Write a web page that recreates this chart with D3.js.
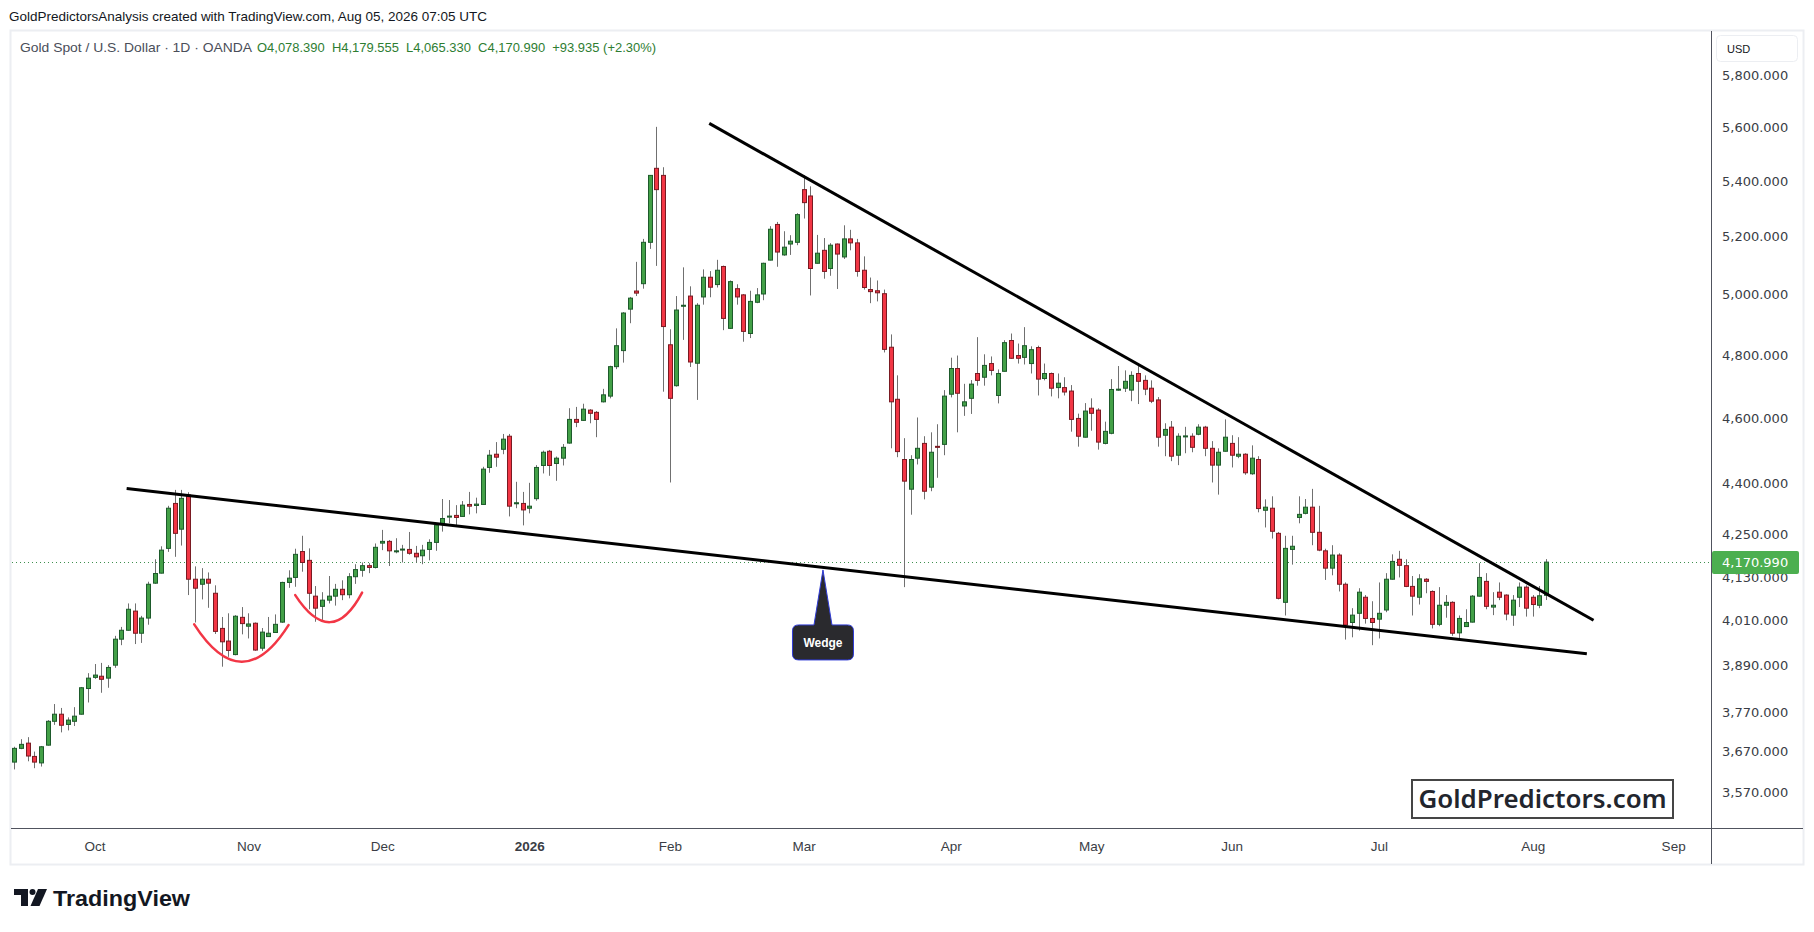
<!DOCTYPE html>
<html>
<head>
<meta charset="utf-8">
<script src="https://cdn.jsdelivr.net/npm/d3@7"></script>
<style>
  html, body { margin: 0; padding: 0; background: #fff; }
  svg { display: block; font-family: "Liberation Sans", Arial, sans-serif; }
</style>
</head>
<body>
<svg id="chart" width="1814" height="932"></svg>
<script>
// daily candles, [open, high, low, close], one array per month
var sep25 = [
  [3643,3681,3625,3677],[3677,3700,3675,3687],[3690,3705,3645,3658],[3657,3669,3628,3643],
  [3641,3683,3632,3681],[3685,3748,3684,3745],[3745,3789,3736,3763],[3763,3779,3717,3735],
  [3737,3755,3722,3748],[3745,3781,3733,3758],[3763,3833,3762,3831],[3829,3869,3793,3856]
];
var oct25 = [
  [3858,3893,3854,3864],[3861,3896,3818,3853],[3856,3890,3831,3884],[3890,3968,3883,3959],
  [3959,3992,3943,3983],[3983,4056,3982,4040],[4035,4056,3946,3975],[3975,4022,3949,4016],
  [4016,4116,3998,4109],[4112,4179,4110,4139],[4140,4216,4139,4205],[4210,4333,4200,4326],
  [4340,4380,4186,4253],[4265,4380,4218,4355],[4365,4373,4079,4123],[4123,4159,4004,4098],
  [4109,4154,4067,4123],[4123,4142,4044,4112],[4084,4106,3973,3980],[3988,4019,3886,3952],
  [3954,4029,3912,3929],[3918,4024,3916,4021],[4018,4046,3972,4001]
];
var nov25 = [
  [3994,4029,3961,4000],[4002,4004,3928,3930],[3935,3989,3928,3978],[3966,4019,3965,3975],
  [3977,4026,3976,3999],[4005,4116,4003,4114],[4114,4148,4099,4126],[4128,4209,4102,4193],
  [4201,4246,4144,4170],[4176,4210,4040,4084],[4076,4104,4006,4043],[4048,4087,4011,4065],
  [4065,4132,4056,4076],[4076,4110,4050,4095],[4095,4120,4065,4080],[4080,4140,4070,4130],
  [4130,4165,4110,4150],[4148,4170,4130,4161],[4161,4168,4140,4156],[4156,4224,4153,4213]
];
var dec25 = [
  [4225,4263,4205,4230],[4230,4234,4160,4203],[4202,4239,4196,4203],[4206,4220,4170,4208],
  [4207,4257,4192,4196],[4196,4217,4170,4186],[4189,4220,4165,4205],[4207,4236,4176,4227],
  [4227,4282,4203,4277],[4281,4353,4258,4296],[4302,4350,4282,4303],[4305,4335,4272,4299],
  [4302,4347,4301,4335],[4337,4374,4308,4332],[4334,4357,4311,4338],[4337,4449,4336,4442],
  [4447,4500,4431,4484],[4487,4524,4449,4478],[4502,4549,4487,4533],[4542,4549,4302,4332],
  [4340,4404,4326,4342],[4340,4374,4276,4321]
];
var jan26 = [
  [4326,4401,4311,4332],[4354,4454,4348,4447],[4453,4498,4429,4493],[4496,4500,4422,4453],
  [4459,4480,4407,4475],[4475,4518,4453,4508],[4521,4629,4519,4594],[4594,4633,4570,4585],
  [4591,4643,4589,4626],[4623,4626,4582,4613],[4616,4620,4539,4594],[4649,4690,4647,4671],
  [4667,4764,4660,4761],[4761,4886,4753,4829],[4813,4940,4774,4937],[4950,4991,4903,4987],
  [5011,5111,4994,5004],[5036,5191,5019,5179],[5179,5420,5156,5419],[5445,5600,5097,5367],
  [5419,5449,4681,4892]
];
var feb26 = [
  [4832,4883,4402,4660],[4700,4994,4697,4947],[4960,5092,4848,4963],[4994,5027,4760,4776],
  [4772,4970,4655,4963],[4991,5085,4965,5058],[5058,5079,4990,5024],[5033,5118,5023,5082],
  [5095,5098,4880,4919],[4886,5047,4884,5043],[5019,5034,4965,4991],[4998,5001,4842,4876],
  [4869,5012,4854,4976],[4973,5021,4970,4998],[5001,5108,4980,5106],[5117,5236,5116,5225],
  [5242,5251,5094,5145],[5135,5218,5132,5162],[5173,5204,5135,5183],[5179,5282,5169,5277]
];
var mar26 = [
  [5367,5419,5263,5320],[5344,5379,4996,5088],[5106,5205,5105,5141],[5151,5194,5053,5078],
  [5088,5176,5063,5169],[5173,5175,5018,5138],[5128,5239,5121,5191],[5191,5223,5151,5177],
  [5177,5191,5060,5078],[5082,5130,5016,5023],[5016,5057,4970,5009],[5012,5047,4976,5005],
  [5002,5016,4807,4817],[4824,4866,4505,4649],[4657,4733,4478,4495],[4471,4536,4101,4406],
  [4382,4484,4307,4471],[4475,4600,4456,4505],[4520,4542,4352,4376],[4388,4554,4376,4493],
  [4511,4579,4416,4509],[4517,4686,4484,4667]
];
var apr26 = [
  [4673,4790,4663,4755],[4755,4797,4554,4676],[4636,4706,4605,4649],[4660,4718,4611,4705],
  [4739,4857,4700,4717],[4727,4801,4700,4765],[4771,4794,4733,4749],[4669,4752,4644,4739],
  [4746,4847,4745,4839],[4846,4869,4786,4788],[4797,4836,4771,4788],[4791,4890,4768,4829],
  [4771,4827,4739,4816],[4823,4829,4669,4721],[4723,4771,4717,4739],[4739,4742,4666,4692],
  [4694,4739,4660,4708],[4694,4727,4669,4680],[4683,4702,4556,4594],[4597,4612,4510,4542],
  [4539,4645,4538,4620]
];
var may26 = [
  [4629,4660,4559,4613],[4623,4629,4501,4524],[4520,4587,4517,4557],[4551,4721,4548,4688],
  [4688,4763,4684,4689],[4692,4749,4680,4714],[4686,4746,4651,4733],[4739,4771,4642,4714],
  [4717,4733,4670,4689],[4692,4717,4645,4651],[4655,4664,4510,4539],[4545,4582,4481,4563],
  [4570,4589,4466,4481],[4484,4551,4454,4542],[4542,4571,4490,4543],[4542,4551,4493,4508],
  [4548,4579,4545,4570],[4570,4574,4481,4505],[4505,4527,4402,4454],[4454,4505,4366,4493],
  [4496,4594,4495,4539]
];
var jun26 = [
  [4520,4545,4447,4484],[4481,4539,4475,4487],[4487,4490,4425,4431],[4428,4514,4425,4475],
  [4471,4481,4314,4325],[4320,4352,4270,4329],[4326,4361,4238,4259],[4253,4257,4067,4070],
  [4059,4246,4023,4210],[4207,4246,4164,4216],[4299,4361,4282,4308],[4311,4353,4308,4329],
  [4329,4383,4219,4256],[4256,4333,4202,4205],[4203,4209,4121,4154],[4154,4219,4134,4191],
  [4191,4196,4089,4109],[4109,4114,3958,3997],[4004,4043,3964,4024],[4029,4098,3982,4087],
  [4073,4079,4001,4015],[4015,4062,3943,4004]
];
var jul26 = [
  [4013,4114,3961,4029],[4038,4140,4032,4123],[4123,4193,4122,4173],[4179,4203,4128,4162],
  [4161,4179,4101,4103],[4103,4132,4023,4076],[4073,4137,4053,4124],[4123,4126,4084,4117],
  [4089,4092,3988,3999],[3999,4101,3994,4051],[4051,4079,4017,4059],[4059,4062,3968,3975],
  [3976,4023,3958,4015],[3993,4040,3992,4004],[4005,4079,4004,4076],[4076,4168,4075,4128],
  [4117,4140,4040,4048],[4046,4087,4024,4051],[4087,4114,4065,4073],[4079,4081,4010,4027],
  [4024,4079,3995,4065],[4073,4114,4046,4101],[4101,4106,4020,4043]
];
var aug26 = [
  [4073,4079,4020,4053],[4051,4104,4043,4077.055],[4078.390,4179.555,4065.330,4170.990]
];

// calendar
var firstDay = '2025-09-15';
var holidays = ['2025-12-25', '2026-01-01', '2026-04-03'];
var monthTicks = [
  ['2025-10-01','Oct'],['2025-11-03','Nov'],['2025-12-01','Dec'],['2026-01-02','2026'],
  ['2026-02-02','Feb'],['2026-03-02','Mar'],['2026-04-01','Apr'],['2026-05-01','May'],
  ['2026-06-01','Jun'],['2026-07-01','Jul'],['2026-08-03','Aug'],['2026-09-01','Sep']
];
var priceTicks = [5800,5600,5400,5200,5000,4800,4600,4400,4250,4130,4010,3890,3770,3670,3570];

// drawings: [bar index, price]
var upperLine = [[103.9, 5613], [236.1, 4010]];
var lowerLine = [[16.8, 4384], [235.1, 3920]];
var cups = [
  [[26.9, 3999], [34.0, 3899], [41.0, 3997]],
  [[42.0, 4079], [47.2, 4005], [52.0, 4086]]
];
var wedgeTip = [120.9, 4149];

// ---------------------------------------------------------------
var svg = d3.select('#chart');
var plot = {left: 12, right: 1711, top: 31, bottom: 828};
var green = '#43a047', red = '#f23645';
var axisFont = '"DejaVu Sans", Verdana, sans-serif';

var dates = [];
(function() {
  var d = new Date(firstDay + 'T00:00:00Z');
  while (dates.length < 260) {
    var iso = d.toISOString().slice(0, 10), wd = d.getUTCDay();
    if (wd !== 0 && wd !== 6 && holidays.indexOf(iso) === -1) dates.push(iso);
    d.setUTCDate(d.getUTCDate() + 1);
  }
})();

var candles = [].concat(sep25, oct25, nov25, dec25, jan26, feb26, mar26, apr26, may26, jun26, jul26, aug26)
  .map(function(c, i) { return {i: i, date: dates[i], o: c[0], h: c[1], l: c[2], c: c[3]}; });

var x = d3.scaleLinear().domain([-0.34, 253.66]).range([plot.left, plot.right]);
var y = d3.scaleLog().domain([3570, 5800]).range([792, 75]);
var pt = function(p) { return [x(p[0]), y(p[1])]; };

// panel
svg.append('rect').attr('x', 10.5).attr('y', 30.5).attr('width', 1793).attr('height', 834)
  .attr('fill', '#fff').attr('stroke', '#eceef2').attr('stroke-width', 2);

// header
var fmt3 = d3.format(',.3f');
var last = candles[candles.length - 1], prev = candles[candles.length - 2];
var chg = last.c - prev.c;
svg.append('text').attr('x', 9).attr('y', 21).attr('font-size', 13).attr('fill', '#131722')
  .attr('textLength', 478).attr('lengthAdjust', 'spacingAndGlyphs')
  .text('GoldPredictorsAnalysis created with TradingView.com, Aug 05, 2026 07:05 UTC');
svg.append('text').attr('x', 20).attr('y', 52).attr('font-size', 13).attr('fill', '#4a4e59')
  .attr('textLength', 232).attr('lengthAdjust', 'spacingAndGlyphs')
  .text('Gold Spot / U.S. Dollar \u00b7 1D \u00b7 OANDA');
svg.append('text').attr('x', 257).attr('y', 52).attr('font-size', 13).attr('fill', '#2e7d32')
  .style('white-space', 'pre')
  .attr('textLength', 399).attr('lengthAdjust', 'spacingAndGlyphs')
  .text('O' + fmt3(last.o) + '  H' + fmt3(last.h) + '  L' + fmt3(last.l) + '  C' + fmt3(last.c) +
        '  ' + (chg >= 0 ? '+' : '') + d3.format('.3f')(chg) +
        ' (' + (chg >= 0 ? '+' : '') + d3.format('.2f')(chg / prev.c * 100) + '%)');

// clip
svg.append('clipPath').attr('id', 'plotclip').append('rect')
  .attr('x', plot.left).attr('y', plot.top).attr('width', plot.right - plot.left).attr('height', plot.bottom - plot.top);
var g = svg.append('g').attr('clip-path', 'url(#plotclip)');

// last price dotted line
g.append('line').attr('x1', plot.left).attr('x2', plot.right)
  .attr('y1', Math.round(y(last.c)) + 0.5).attr('y2', Math.round(y(last.c)) + 0.5)
  .attr('stroke', '#3f8f4f').attr('stroke-dasharray', '1,3');

// candles
var cg = g.append('g').selectAll('g').data(candles).enter().append('g');
cg.append('line')
  .attr('x1', function(d) { return Math.round(x(d.i)) + 0.5; })
  .attr('x2', function(d) { return Math.round(x(d.i)) + 0.5; })
  .attr('y1', function(d) { return y(d.h); })
  .attr('y2', function(d) { return y(d.l); })
  .attr('stroke', '#707070').attr('stroke-width', 1);
cg.append('rect')
  .attr('x', function(d) { return Math.round(x(d.i)) - 1.5; })
  .attr('y', function(d) { return y(Math.max(d.o, d.c)); })
  .attr('width', 4)
  .attr('height', function(d) { return Math.max(1, Math.abs(y(d.o) - y(d.c))); })
  .attr('fill', function(d) { return d.c >= d.o ? green : red; })
  .attr('stroke', function(d) { return d.c >= d.o ? '#1d5a2b' : '#7a1a22'; })
  .attr('stroke-width', 1);

// trend lines
[upperLine, lowerLine].forEach(function(l) {
  var a = pt(l[0]), b = pt(l[1]);
  g.append('line').attr('x1', a[0]).attr('y1', a[1]).attr('x2', b[0]).attr('y2', b[1])
    .attr('stroke', '#000').attr('stroke-width', 3);
});

// cup arcs
cups.forEach(function(c) {
  var p0 = pt(c[0]), m = pt(c[1]), p2 = pt(c[2]);
  var cx = 2 * m[0] - (p0[0] + p2[0]) / 2, cy = 2 * m[1] - (p0[1] + p2[1]) / 2;
  g.append('path').attr('d', 'M' + p0 + 'Q' + cx + ',' + cy + ' ' + p2)
    .attr('fill', 'none').attr('stroke', red).attr('stroke-width', 2.5).attr('stroke-linecap', 'round');
});

// wedge callout
(function() {
  var t = pt(wedgeTip), tx = t[0], ty = t[1];
  var bx0 = tx - 30.5, bx1 = tx + 30.5, by0 = ty + 55, by1 = ty + 90, r = 6, pw = 9;
  var path = 'M' + (bx0 + r) + ',' + by0 + 'L' + (tx - pw) + ',' + by0 + 'L' + tx + ',' + ty +
    'L' + (tx + pw) + ',' + by0 + 'L' + (bx1 - r) + ',' + by0 + 'Q' + bx1 + ',' + by0 + ' ' + bx1 + ',' + (by0 + r) +
    'L' + bx1 + ',' + (by1 - r) + 'Q' + bx1 + ',' + by1 + ' ' + (bx1 - r) + ',' + by1 +
    'L' + (bx0 + r) + ',' + by1 + 'Q' + bx0 + ',' + by1 + ' ' + bx0 + ',' + (by1 - r) +
    'L' + bx0 + ',' + (by0 + r) + 'Q' + bx0 + ',' + by0 + ' ' + (bx0 + r) + ',' + by0 + 'Z';
  svg.append('path').attr('d', path).attr('fill', '#2a2a2e').attr('stroke', '#2f3bd6').attr('stroke-width', 1);
  svg.append('text').attr('x', tx).attr('y', (by0 + by1) / 2).attr('dy', '0.35em')
    .attr('text-anchor', 'middle').attr('font-size', 12).attr('font-weight', 'bold').attr('fill', '#fff')
    .text('Wedge');
})();

// watermark box
svg.append('rect').attr('x', 1412).attr('y', 780).attr('width', 261).attr('height', 38)
  .attr('fill', '#fff').attr('stroke', '#454545').attr('stroke-width', 2);
svg.append('text').attr('x', 1542.5).attr('y', 799).attr('dy', '0.35em').attr('text-anchor', 'middle')
  .style('font-family', '"Noto Sans", "Open Sans", sans-serif').attr('font-weight', 600).attr('font-size', 25)
  .attr('fill', '#22252d').attr('textLength', 248).attr('lengthAdjust', 'spacingAndGlyphs')
  .text('GoldPredictors.com');

// axes separators
svg.append('line').attr('x1', 1711.5).attr('x2', 1711.5).attr('y1', 31).attr('y2', 864)
  .attr('stroke', '#50535e');
svg.append('line').attr('x1', 11).attr('x2', 1803).attr('y1', 828.5).attr('y2', 828.5)
  .attr('stroke', '#50535e');

// price axis
var yAxis = d3.axisRight(y).tickValues(priceTicks).tickSize(0).tickPadding(0).tickFormat(fmt3);
var ya = svg.append('g').attr('transform', 'translate(1722,0)').call(yAxis);
ya.select('.domain').remove();
ya.selectAll('text').attr('x', 0).attr('dy', '0.35em')
  .style('font-family', axisFont).style('font-size', '13px').attr('fill', '#3a3d45');

// last price label
svg.append('rect').attr('x', 1712).attr('y', Math.round(y(last.c)) - 11).attr('width', 87).attr('height', 23)
  .attr('rx', 2).attr('fill', '#4caf50');
svg.append('text').attr('x', 1722).attr('y', y(last.c) + 0.5).attr('dy', '0.35em')
  .style('font-family', axisFont).style('font-size', '13px').attr('fill', '#fff')
  .text(fmt3(last.c));

// currency badge
svg.append('rect').attr('x', 1716.5).attr('y', 35.5).attr('width', 81).attr('height', 26).attr('rx', 4)
  .attr('fill', '#fff').attr('stroke', '#eceef2');
svg.append('text').attr('x', 1727).attr('y', 49).attr('dy', '0.35em').attr('font-size', 11).attr('fill', '#131722')
  .text('USD');

// time axis
var tickIdx = monthTicks.map(function(m) { return dates.indexOf(m[0]); });
var tickLab = {};
monthTicks.forEach(function(m, k) { tickLab[tickIdx[k]] = m[1]; });
var xAxis = d3.axisBottom(x).tickValues(tickIdx).tickSize(0).tickPadding(0)
  .tickFormat(function(i) { return tickLab[i]; });
var xa = svg.append('g').attr('transform', 'translate(0,846)').call(xAxis);
xa.select('.domain').remove();
xa.selectAll('text').attr('y', 0).attr('dy', '0.35em')
  .style('font-family', '"Liberation Sans", Arial, sans-serif').style('font-size', '13.5px').attr('fill', '#3a3d45')
  .style('font-weight', function(i) { return tickLab[i] === '2026' ? 'bold' : 'normal'; });

// footer logo
var logo = svg.append('g').attr('fill', '#131722');
logo.append('path').attr('d', 'M14,889H28V906H21V895H14Z');
logo.append('circle').attr('cx', 32.5).attr('cy', 892).attr('r', 3);
logo.append('path').attr('d', 'M38,889H47L39.5,906H30.5Z');
svg.append('text').attr('x', 53).attr('y', 905.5).attr('font-size', 22).attr('font-weight', 'bold')
  .attr('fill', '#131722').attr('textLength', 137).attr('lengthAdjust', 'spacingAndGlyphs')
  .text('TradingView');
</script>
</body>
</html>
